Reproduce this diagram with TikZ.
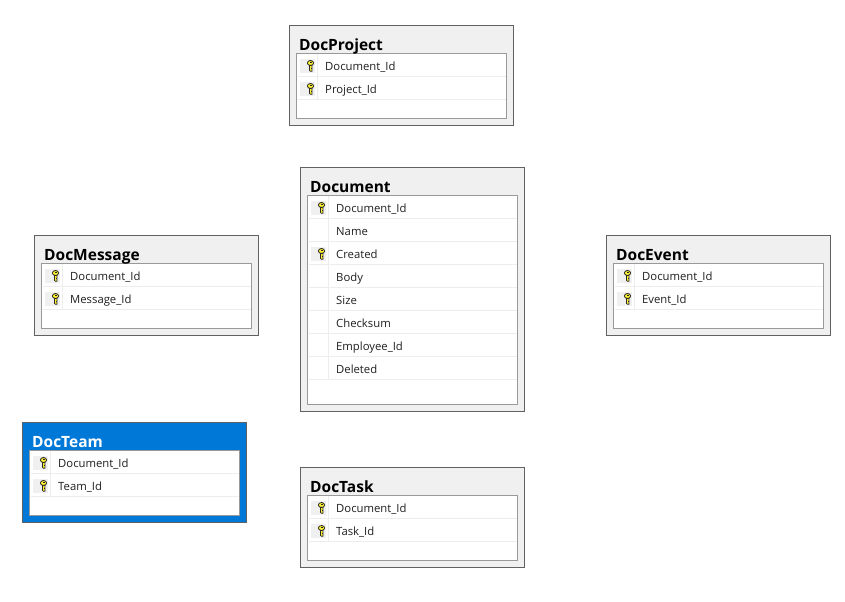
\documentclass[tikz,border=0pt]{standalone}
\usepackage{fontspec}
\setmainfont{Open Sans}
\definecolor{selblue}{RGB}{0,120,215}
\definecolor{keyyellow}{RGB}{255,242,50}
\tikzset{
  x=1bp,y=-1bp,
  tableouter/.style={draw=black!62,line width=1bp,fill=black!6,inner sep=0pt,outer sep=0pt,anchor=north west,minimum width=224bp},
  tableselected/.style={tableouter,fill=selblue},
  tableinner/.style={draw=black!40,line width=1bp,fill=white,inner sep=0pt,outer sep=0pt,anchor=north west,minimum width=210bp},
  titletext/.style={anchor=base west,inner sep=0pt,font=\fontsize{15.5bp}{17bp}\selectfont\bfseries},
  rowtext/.style={anchor=base west,inner sep=0pt,font=\fontsize{11.3bp}{14bp}\selectfont,text=black!88},
  rowline/.style={draw=black!7,line width=1bp},
  keycell/.style={fill=black!6,draw=none},
  keyoutline/.style={draw=black!85,line width=.8bp,fill=keyyellow},
}
\newcommand{\keyicon}[2]{%
  \begin{scope}[shift={(#1,#2)}]
    \path[keyoutline] (-1,-1) -- (1.4,-1) -- (1.4,5.2) -- (-.2,5.2) -- (-1,4.4) -- cycle;
    \path[keyoutline] (0,-3) ellipse [x radius=3.1,y radius=2.5];
    \fill[black!85] (-1,-3.7) rectangle (1,-2.8);
    \fill[black!85] (.2,2) rectangle (1.4,2.8);
  \end{scope}}
% #1 name, #2 x, #3 y, #4 title, #5 height, #6 style, #7 title colour, #8 rows: keyflag/text
\newcommand{\dbtable}[8]{%
  \node[#6,minimum height=#5 bp] (#1) at (#2+.5,#3+.5) {};
  \pgfmathsetmacro{\innerh}{#5-35}
  \node[tableinner,minimum height=\innerh bp] (#1inner) at (#2+7.8,#3+28.5) {};
  \node[titletext,text=#7] (#1title) at (#2+10,#3+25.4) {#4};
  \foreach \k/\t [count=\i] in {#8} {
    \pgfmathsetmacro{\ry}{#3+29+(\i-1)*23}
    \draw[rowline] (#2+8.5,\ry+22.5) -- (#2+217,\ry+22.5);
    \draw[rowline] (#2+28.5,\ry) -- (#2+28.5,\ry+22);
    \ifnum\k=1
      \fill[keycell] (#2+11,\ry+5) rectangle (#2+26,\ry+19);
      \keyicon{#2+21.5}{\ry+12}
    \fi
    \node[rowtext] (#1row\i) at (#2+36,\ry+16.4) {\t};
  }%
}
\begin{document}
\begin{tikzpicture}
\useasboundingbox (0,0) rectangle (845,602);
\fill[white] (0,0) rectangle (845,602);
\dbtable{project}{289}{25}{DocProject}{100}{tableouter}{black}{1/Document\_Id,1/Project\_Id}
\dbtable{document}{300}{167}{Document}{244}{tableouter}{black}{1/Document\_Id,0/Name,1/Created,0/Body,0/Size,0/Checksum,0/Employee\_Id,0/Deleted}
\dbtable{message}{34}{235}{DocMessage}{100}{tableouter}{black}{1/Document\_Id,1/Message\_Id}
\dbtable{event}{606}{235}{DocEvent}{100}{tableouter}{black}{1/Document\_Id,1/Event\_Id}
\dbtable{team}{22}{422}{DocTeam}{100}{tableselected}{white}{1/Document\_Id,1/Team\_Id}
\dbtable{task}{300}{467}{DocTask}{100}{tableouter}{black}{1/Document\_Id,1/Task\_Id}
\end{tikzpicture}
\end{document}
